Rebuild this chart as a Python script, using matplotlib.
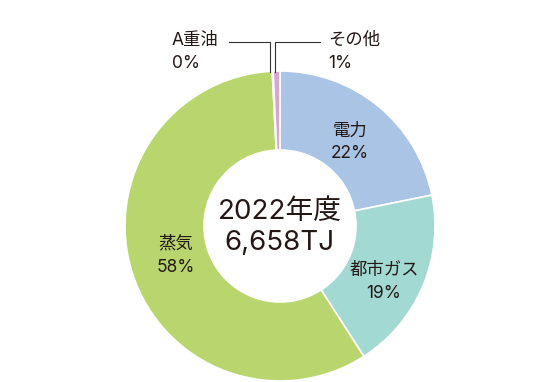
import matplotlib.pyplot as plt

plt.rcParams['font.family'] = ['Inter', 'Noto Sans CJK JP', 'DejaVu Sans']

# data (share of energy use, %)
labels = ['電力', '都市ガス', '蒸気', 'A重油', 'その他']
values = [21.8, 19.1, 58.3, 0.1, 0.7]
pct_labels = ['22%', '19%', '58%', '0%', '1%']
colors = ['#a9c4e5', '#a3d9d3', '#b8d66d', '#c9c9c9', '#d6a6cf']
center_title = '2022年度'
center_total = '6,658TJ'

W, H = 560, 382
fig = plt.figure(figsize=(W / 100, H / 100), dpi=100)
ax = fig.add_axes([0, 0, 1, 1])

cx, cy, r = 280, H - 226, 155
ax.pie(values, colors=colors, startangle=90, counterclock=False,
       center=(cx, cy), radius=r, frame=True,
       wedgeprops=dict(width=r - 76, edgecolor='white', linewidth=1.2))
ax.set_xlim(0, W)
ax.set_ylim(0, H)
ax.set_aspect('equal')
ax.axis('off')

txt = '#231815'
def lab(x, y, s1, s2, ha='center'):
    ax.text(x, H - y, s1, ha=ha, va='center', fontsize=12.5, color=txt)
    ax.text(x, H - y - 23, s2, ha=ha, va='center', fontsize=12.5, color=txt)

lab(350, 131, labels[0], pct_labels[0])
lab(384, 270, labels[1], pct_labels[1])
lab(176, 244, labels[2], pct_labels[2])
lab(172, 40, labels[3], pct_labels[3], ha='left')
lab(328, 40, labels[4], pct_labels[4], ha='left')

# leader lines for the thin slices
ax.plot([229, 270, 270], [H - 42, H - 42, H - 72], color='#333333', lw=0.8)
ax.plot([320, 275, 275], [H - 42, H - 42, H - 72], color='#333333', lw=0.8)

ax.text(cx, H - 212, center_title, ha='center', va='center', fontsize=20, color=txt)
ax.text(cx, H - 243, center_total, ha='center', va='center', fontsize=20, color=txt)

fig.savefig('out.png', dpi=100)
